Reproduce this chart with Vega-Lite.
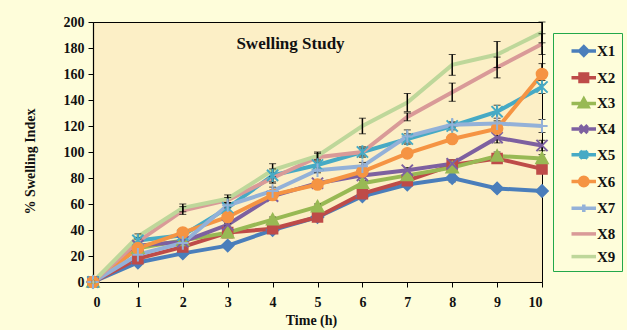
{
  "$schema": "https://vega.github.io/schema/vega-lite/v6.json",
  "autosize": {"type": "none"},
  "width": 449,
  "height": 260,
  "padding": {"left": 93, "top": 22, "right": 85, "bottom": 48},
  "background": "#FEFDDA",
  "config": {
    "font": "Liberation Serif",
    "view": {"stroke": "black", "strokeWidth": 1, "fill": "#FCEFC6"},
    "axis": {"labelFont": "Liberation Serif", "labelFontWeight": "bold", "labelFontSize": 14, "labelColor": "#111", "titleFont": "Liberation Serif", "titleFontWeight": "bold", "titleFontSize": 14, "titleColor": "#111", "domainColor": "black", "domainWidth": 1.2, "tickColor": "black", "tickSize": 5, "grid": false},
    "point": {"filled": true, "opacity": 1, "size": 125, "strokeWidth": 1.5}
  },
  "title": {"text": "Swelling Study", "font": "Liberation Serif", "fontSize": 17, "fontWeight": "bold", "color": "#111", "orient": "top", "anchor": "middle", "dx": -27, "offset": -38},
  "data": {"values": [
    {"s":"X1","t":0,"v":0,"e":0},{"s":"X1","t":1,"v":15,"e":1},{"s":"X1","t":2,"v":22,"e":1},{"s":"X1","t":3,"v":28,"e":1},{"s":"X1","t":4,"v":40,"e":2},{"s":"X1","t":5,"v":50,"e":1},{"s":"X1","t":6,"v":66,"e":2},{"s":"X1","t":7,"v":75,"e":2},{"s":"X1","t":8,"v":80,"e":3},{"s":"X1","t":9,"v":72,"e":2},{"s":"X1","t":10,"v":70,"e":2},
    {"s":"X2","t":0,"v":0,"e":0},{"s":"X2","t":1,"v":18,"e":1},{"s":"X2","t":2,"v":27,"e":1},{"s":"X2","t":3,"v":38,"e":1},{"s":"X2","t":4,"v":41,"e":1},{"s":"X2","t":5,"v":50,"e":1},{"s":"X2","t":6,"v":68,"e":2},{"s":"X2","t":7,"v":78,"e":2},{"s":"X2","t":8,"v":90,"e":2},{"s":"X2","t":9,"v":95,"e":3},{"s":"X2","t":10,"v":87,"e":3},
    {"s":"X3","t":0,"v":0,"e":0},{"s":"X3","t":1,"v":26,"e":1},{"s":"X3","t":2,"v":32,"e":1},{"s":"X3","t":3,"v":38,"e":1},{"s":"X3","t":4,"v":48,"e":2},{"s":"X3","t":5,"v":58,"e":2},{"s":"X3","t":6,"v":76,"e":2},{"s":"X3","t":7,"v":82,"e":2},{"s":"X3","t":8,"v":88,"e":2},{"s":"X3","t":9,"v":97,"e":3},{"s":"X3","t":10,"v":95,"e":3},
    {"s":"X4","t":0,"v":0,"e":0},{"s":"X4","t":1,"v":28,"e":1},{"s":"X4","t":2,"v":31,"e":1},{"s":"X4","t":3,"v":44,"e":1},{"s":"X4","t":4,"v":66,"e":3},{"s":"X4","t":5,"v":76,"e":1},{"s":"X4","t":6,"v":82,"e":2},{"s":"X4","t":7,"v":86,"e":2},{"s":"X4","t":8,"v":91,"e":3},{"s":"X4","t":9,"v":111,"e":4},{"s":"X4","t":10,"v":105,"e":4},
    {"s":"X5","t":0,"v":0,"e":0},{"s":"X5","t":1,"v":32,"e":2},{"s":"X5","t":2,"v":36,"e":1},{"s":"X5","t":3,"v":57,"e":3},{"s":"X5","t":4,"v":82,"e":5},{"s":"X5","t":5,"v":90,"e":2},{"s":"X5","t":6,"v":100,"e":3},{"s":"X5","t":7,"v":110,"e":4},{"s":"X5","t":8,"v":120,"e":3},{"s":"X5","t":9,"v":131,"e":5},{"s":"X5","t":10,"v":150,"e":5},
    {"s":"X6","t":0,"v":0,"e":0},{"s":"X6","t":1,"v":26,"e":1},{"s":"X6","t":2,"v":38,"e":2},{"s":"X6","t":3,"v":50,"e":1},{"s":"X6","t":4,"v":67,"e":3},{"s":"X6","t":5,"v":75,"e":2},{"s":"X6","t":6,"v":85,"e":2},{"s":"X6","t":7,"v":99,"e":3},{"s":"X6","t":8,"v":110,"e":2},{"s":"X6","t":9,"v":118,"e":3},{"s":"X6","t":10,"v":160,"e":8},
    {"s":"X7","t":0,"v":0,"e":0},{"s":"X7","t":1,"v":21,"e":1},{"s":"X7","t":2,"v":30,"e":1},{"s":"X7","t":3,"v":59,"e":2},{"s":"X7","t":4,"v":70,"e":3},{"s":"X7","t":5,"v":86,"e":2},{"s":"X7","t":6,"v":89,"e":3},{"s":"X7","t":7,"v":112,"e":5},{"s":"X7","t":8,"v":121,"e":2},{"s":"X7","t":9,"v":122,"e":2},{"s":"X7","t":10,"v":120,"e":5},
    {"s":"X8","t":0,"v":0,"e":0},{"s":"X8","t":1,"v":31,"e":3},{"s":"X8","t":2,"v":55,"e":3},{"s":"X8","t":3,"v":63,"e":2},{"s":"X8","t":4,"v":80,"e":4},{"s":"X8","t":5,"v":96,"e":3},{"s":"X8","t":6,"v":100,"e":4},{"s":"X8","t":7,"v":127,"e":3},{"s":"X8","t":8,"v":146,"e":7},{"s":"X8","t":9,"v":165,"e":8},{"s":"X8","t":10,"v":183,"e":8},
    {"s":"X9","t":0,"v":0,"e":0},{"s":"X9","t":1,"v":35,"e":2},{"s":"X9","t":2,"v":57,"e":3},{"s":"X9","t":3,"v":64,"e":3},{"s":"X9","t":4,"v":86,"e":5},{"s":"X9","t":5,"v":97,"e":3},{"s":"X9","t":6,"v":120,"e":6},{"s":"X9","t":7,"v":138,"e":7},{"s":"X9","t":8,"v":167,"e":8},{"s":"X9","t":9,"v":175,"e":10},{"s":"X9","t":10,"v":192,"e":8}
  ]},
  "encoding": {
    "x": {"field": "t", "type": "quantitative", "scale": {"domain": [0, 10], "nice": false}, "axis": {"values": [0,1,2,3,4,5,6,7,8,9,10], "labelPadding": 8, "title": "Time (h)", "titleX": 218, "titleY": 38, "titleBaseline": "middle"}},
    "y": {"field": "v", "type": "quantitative", "scale": {"domain": [0, 200], "nice": false}, "axis": {"values": [0,20,40,60,80,100,120,140,160,180,200], "labelPadding": 4, "title": "% Swelling Index", "titleX": -63, "titleY": 139, "titleAnchor": "middle", "titleBaseline": "middle"}},
    "color": {"field": "s", "type": "nominal", "title": null, "scale": {"domain": ["X1","X2","X3","X4","X5","X6","X7","X8","X9"], "range": ["#4A7EBB","#BE4B48","#98B954","#7D60A0","#46AAC5","#F59443","#93B1D8","#D99A98","#BED79A"]}, "legend": {"orient": "none", "legendX": 460, "legendY": 11, "symbolSize": 400, "symbolStrokeWidth": 3.5, "symbolOffset": 6, "labelOffset": 8, "rowPadding": 2.7, "padding": 6, "strokeColor": "#22A84A", "labelFont": "Liberation Serif", "labelFontWeight": "bold", "labelFontSize": 15, "labelColor": "#111", "encode": {"symbols": {"update": {"strokeWidth": {"value": 3.5}}}}}}
  },
  "layer": [
    {"mark": {"type": "line", "strokeWidth": 4}},
    {
      "transform": [{"filter": "datum.e > 0"}],
      "mark": {"type": "errorbar", "ticks": {"size": 7, "color": "black", "strokeWidth": 1.5}, "rule": {"color": "black", "strokeWidth": 1.5}},
      "encoding": {"color": {"value": "black"}, "yError": {"field": "e"}}
    },
    {"transform": [{"filter": "datum.s == 'X1'"}], "mark": {"type": "point", "shape": "M0,-1.1L1.1,0L0,1.1L-1.1,0Z"}, "encoding": {"stroke": {"field": "s", "type": "nominal", "title": null}}},
    {"transform": [{"filter": "datum.s == 'X2'"}], "mark": {"type": "point", "shape": "M-0.9,-0.9H0.9V0.9H-0.9Z"}, "encoding": {"stroke": {"field": "s", "type": "nominal", "title": null}}},
    {"transform": [{"filter": "datum.s == 'X3'"}], "mark": {"type": "point", "shape": "M0,-1.1L1.1,0.9H-1.1Z"}, "encoding": {"stroke": {"field": "s", "type": "nominal", "title": null}}},
    {"transform": [{"filter": "datum.s == 'X4'"}], "mark": {"type": "point", "shape": "M-1,-1L1,1M-1,1L1,-1", "strokeWidth": 2}, "encoding": {"stroke": {"field": "s", "type": "nominal", "title": null}}},
    {"transform": [{"filter": "datum.s == 'X5'"}], "mark": {"type": "point", "shape": "M-1,-1L1,1M-1,1L1,-1M0,-1.2V1.2", "strokeWidth": 2}, "encoding": {"stroke": {"field": "s", "type": "nominal", "title": null}}},
    {"transform": [{"filter": "datum.s == 'X6'"}], "mark": {"type": "point", "shape": "M1,0A1,1 0 1,1 -1,0A1,1 0 1,1 1,0Z"}, "encoding": {"stroke": {"field": "s", "type": "nominal", "title": null}}},
    {"transform": [{"filter": "datum.s == 'X7'"}], "mark": {"type": "point", "shape": "M-1,0H1M0,-1.2V1.2", "strokeWidth": 2}, "encoding": {"stroke": {"field": "s", "type": "nominal", "title": null}}},
    {
      "transform": [{"filter": "datum.t == 0"}],
      "mark": {"type": "point", "size": 1, "strokeWidth": 3},
      "encoding": {
        "stroke": {"field": "s", "type": "nominal", "title": null, "scale": {"domain": ["X1","X2","X3","X4","X5","X6","X7","X8","X9"], "range": ["#4A7EBB","#BE4B48","#98B954","#7D60A0","#46AAC5","#F59443","#93B1D8","#D99A98","#BED79A"]}},
        "shape": {"field": "s", "type": "nominal", "title": null, "scale": {"domain": ["X1","X2","X3","X4","X5","X6","X7","X8","X9"], "range": ["M-0.55,0H1.9M0.68,-0.42L1.1,0L0.68,0.42L0.26,0Z","M-0.55,0H1.9M0.3,-0.38H1.06V0.38H0.3Z","M-0.55,0H1.9M0.68,-0.42L1.1,0.34H0.26Z","M-0.55,0H1.9M0.3,-0.38L1.06,0.38M0.3,0.38L1.06,-0.38","M-0.55,0H1.9M0.3,-0.38L1.06,0.38M0.3,0.38L1.06,-0.38M0.68,-0.42V0.42","M-0.55,0H1.9M1.1,0A0.42,0.42 0 1,1 0.26,0A0.42,0.42 0 1,1 1.1,0Z","M-0.55,0H1.9M0.68,-0.38V0.38","M-0.55,0H1.9","M-0.55,0H1.9"]}}
      }
    }
  ]
}
